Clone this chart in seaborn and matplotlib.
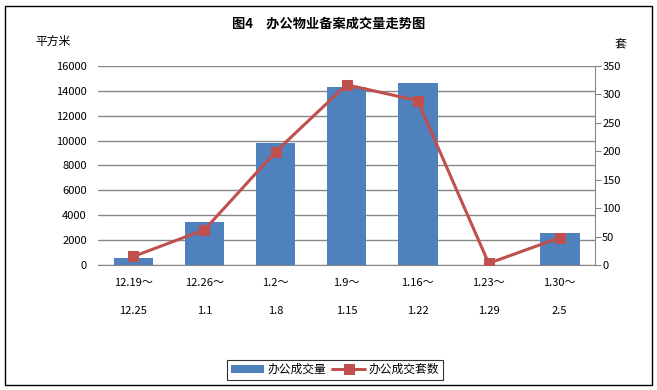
import numpy as np
import pandas as pd
import seaborn as sns
import matplotlib.pyplot as plt
from matplotlib.patches import Rectangle

sns.set_style("white")
plt.rcParams['font.family'] = ['Noto Sans CJK SC', 'DejaVu Sans']
plt.rcParams['text.color'] = 'black'
plt.rcParams['xtick.labelcolor'] = 'black'
plt.rcParams['ytick.labelcolor'] = 'black'

# data
periods = ['12.19～\n\n12.25', '12.26～\n\n1.1', '1.2～\n\n1.8', '1.9～\n\n1.15',
           '1.16～\n\n1.22', '1.23～\n\n1.29', '1.30～\n\n2.5']
area = [560, 3450, 9800, 14300, 14650, 0, 2570]      # 平方米
units = [15, 62, 199, 317, 289, 3, 48]               # 套

df = pd.DataFrame({'period': periods, 'area': area, 'units': units})
df['pos'] = np.arange(len(df))

bar_color = '#4F81BD'
line_color = '#C0504D'
grid_color = '#878787'

fig = plt.figure(figsize=(6.57, 3.9), dpi=100)
ax = fig.add_axes([0.149, 0.3205, 0.757, 0.5103])

sns.barplot(data=df, x='period', y='area', color=bar_color, width=0.56,
            saturation=1, linewidth=0, ax=ax, label='办公成交量')
ax.set_ylim(0, 16000)
ax.set_yticks(np.arange(0, 16001, 2000))
ax.set_xlim(-0.5, len(df) - 0.5)
ax.yaxis.grid(True, color=grid_color, lw=1)
ax.set_axisbelow(True)
ax.set_xlabel('')
ax.set_ylabel('')
for s in ['top', 'left', 'right']:
    ax.spines[s].set_visible(False)
ax.spines['bottom'].set_color(grid_color)
ax.tick_params(axis='x', length=0, pad=9, labelsize=8)
ax.tick_params(axis='y', length=0, pad=8, labelsize=8)
for t in ax.get_xticklabels():
    t.set_linespacing(1.55)
if ax.get_legend() is not None:
    ax.get_legend().remove()

ax2 = ax.twinx()
sns.lineplot(data=df, x='pos', y='units', color=line_color, lw=2.2, marker='s',
             markersize=7, markeredgecolor=line_color, ax=ax2, label='办公成交套数')
ax2.set_ylim(0, 350)
ax2.set_yticks(np.arange(0, 351, 50))
ax2.set_ylabel('')
ax2.set_xlabel('')
for s in ['top', 'left', 'bottom']:
    ax2.spines[s].set_visible(False)
ax2.spines['right'].set_color(grid_color)
ax2.tick_params(axis='y', length=4, color=grid_color, direction='out', labelsize=8, pad=1)
ax2.get_legend().remove()

# title and axis units
fig.text(0.5, 0.94, '图4　办公物业备案成交量走势图', ha='center', va='center',
         fontsize=9.5, fontweight='bold')
fig.text(0.08, 0.893, '平方米', ha='center', va='center', fontsize=8.5)
fig.text(0.945, 0.885, '套', ha='center', va='center', fontsize=8.5)

# legend at bottom
h1, l1 = ax.get_legend_handles_labels()
h2, l2 = ax2.get_legend_handles_labels()
leg = fig.legend(h1 + h2, l1 + l2, loc='center', bbox_to_anchor=(0.51, 0.052),
                 ncol=2, fontsize=8.5, frameon=True, fancybox=False, edgecolor='black',
                 handlelength=2.8, handletextpad=0.3, columnspacing=0.5,
                 borderpad=0.3)
leg.get_frame().set_linewidth(0.8)

# outer frame
fig.add_artist(Rectangle((0.008, 0.012), 0.984, 0.972, transform=fig.transFigure,
                         fill=False, edgecolor='black', lw=1))

fig.savefig('out.png', dpi=100)
